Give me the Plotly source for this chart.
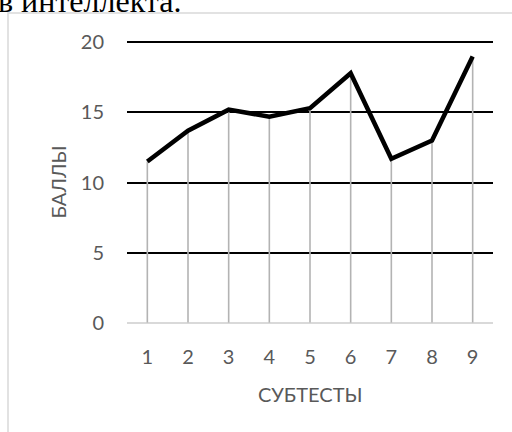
import plotly.graph_objects as go

categories = [1, 2, 3, 4, 5, 6, 7, 8, 9]
scores = [11.5, 13.7, 15.2, 14.7, 15.3, 17.8, 11.7, 13.0, 19.0]
y_ticks = [0, 5, 10, 15, 20]
x_title = "СУБТЕСТЫ"
y_title = "БАЛЛЫ"
doc_text = "в интеллекта."

W, H = 512, 432
L, R, T, B = 127, 19, 41, 108
pw, ph = W - L - R, H - T - B

def px_x(p):
    return (p - L) / pw

def px_y(p):
    return (H - B - p) / ph

fig = go.Figure()

# drop lines from axis to each point
fig.add_trace(go.Scatter(
    x=categories, y=scores, mode="markers",
    marker=dict(size=0.1, color="rgba(0,0,0,0)"),
    error_y=dict(type="data", symmetric=False, array=[0] * len(scores),
                 arrayminus=scores, color="#b3b3b3", thickness=1.6, width=0),
    hoverinfo="skip", showlegend=False,
))

fig.add_trace(go.Scatter(
    x=categories, y=scores, mode="lines",
    line=dict(color="#000000", width=4.5),
    showlegend=False,
))

font_tick = dict(family="Lato, Open Sans, sans-serif", size=20, color="#595959")

fig.update_xaxes(
    range=[0.5, 9.5], tickvals=categories, ticktext=[str(c) for c in categories],
    showgrid=False, zeroline=False, showline=False,
    ticks="", tickfont=font_tick, ticklabelstandoff=19, fixedrange=True,
)
fig.update_yaxes(
    range=[-0.1, 20.1], tickvals=y_ticks, showgrid=True, gridcolor="#000000", gridwidth=2,
    zeroline=True, zerolinecolor="#d9d9d9", zerolinewidth=2,
    showline=False, ticks="", tickfont=font_tick,
    ticklabelstandoff=22, fixedrange=True,
)

annotations = [
    dict(text=x_title, x=0.5, y=px_y(394), xref="paper", yref="paper",
         showarrow=False, xanchor="center", yanchor="middle", font=font_tick),
    dict(text=y_title, x=px_x(57), y=0.5, xref="paper", yref="paper", textangle=-90,
         showarrow=False, xanchor="center", yanchor="middle", font=font_tick),
    dict(text=doc_text, x=px_x(-4), y=px_y(21), xref="paper", yref="paper",
         showarrow=False, xanchor="left", yanchor="bottom",
         font=dict(family="Liberation Serif, Times New Roman, serif", size=32, color="#000000")),
]

shapes = [
    # chart-area frame (continues past right and bottom edges of the view)
    dict(type="rect", xref="paper", yref="paper",
         x0=px_x(8), x1=px_x(W + 20), y0=px_y(H + 20), y1=px_y(13),
         line=dict(color="#d9d9d9", width=1.5), fillcolor="rgba(0,0,0,0)", layer="below"),
]

fig.update_layout(
    width=W, height=H,
    margin=dict(l=L, r=R, t=T, b=B, pad=0),
    paper_bgcolor="#ffffff", plot_bgcolor="#ffffff",
    annotations=annotations, shapes=shapes,
    showlegend=False,
)

fig.write_html("out.html", config={"displayModeBar": False},
               post_script="document.body.style.margin='0';document.body.style.overflow='hidden';")
